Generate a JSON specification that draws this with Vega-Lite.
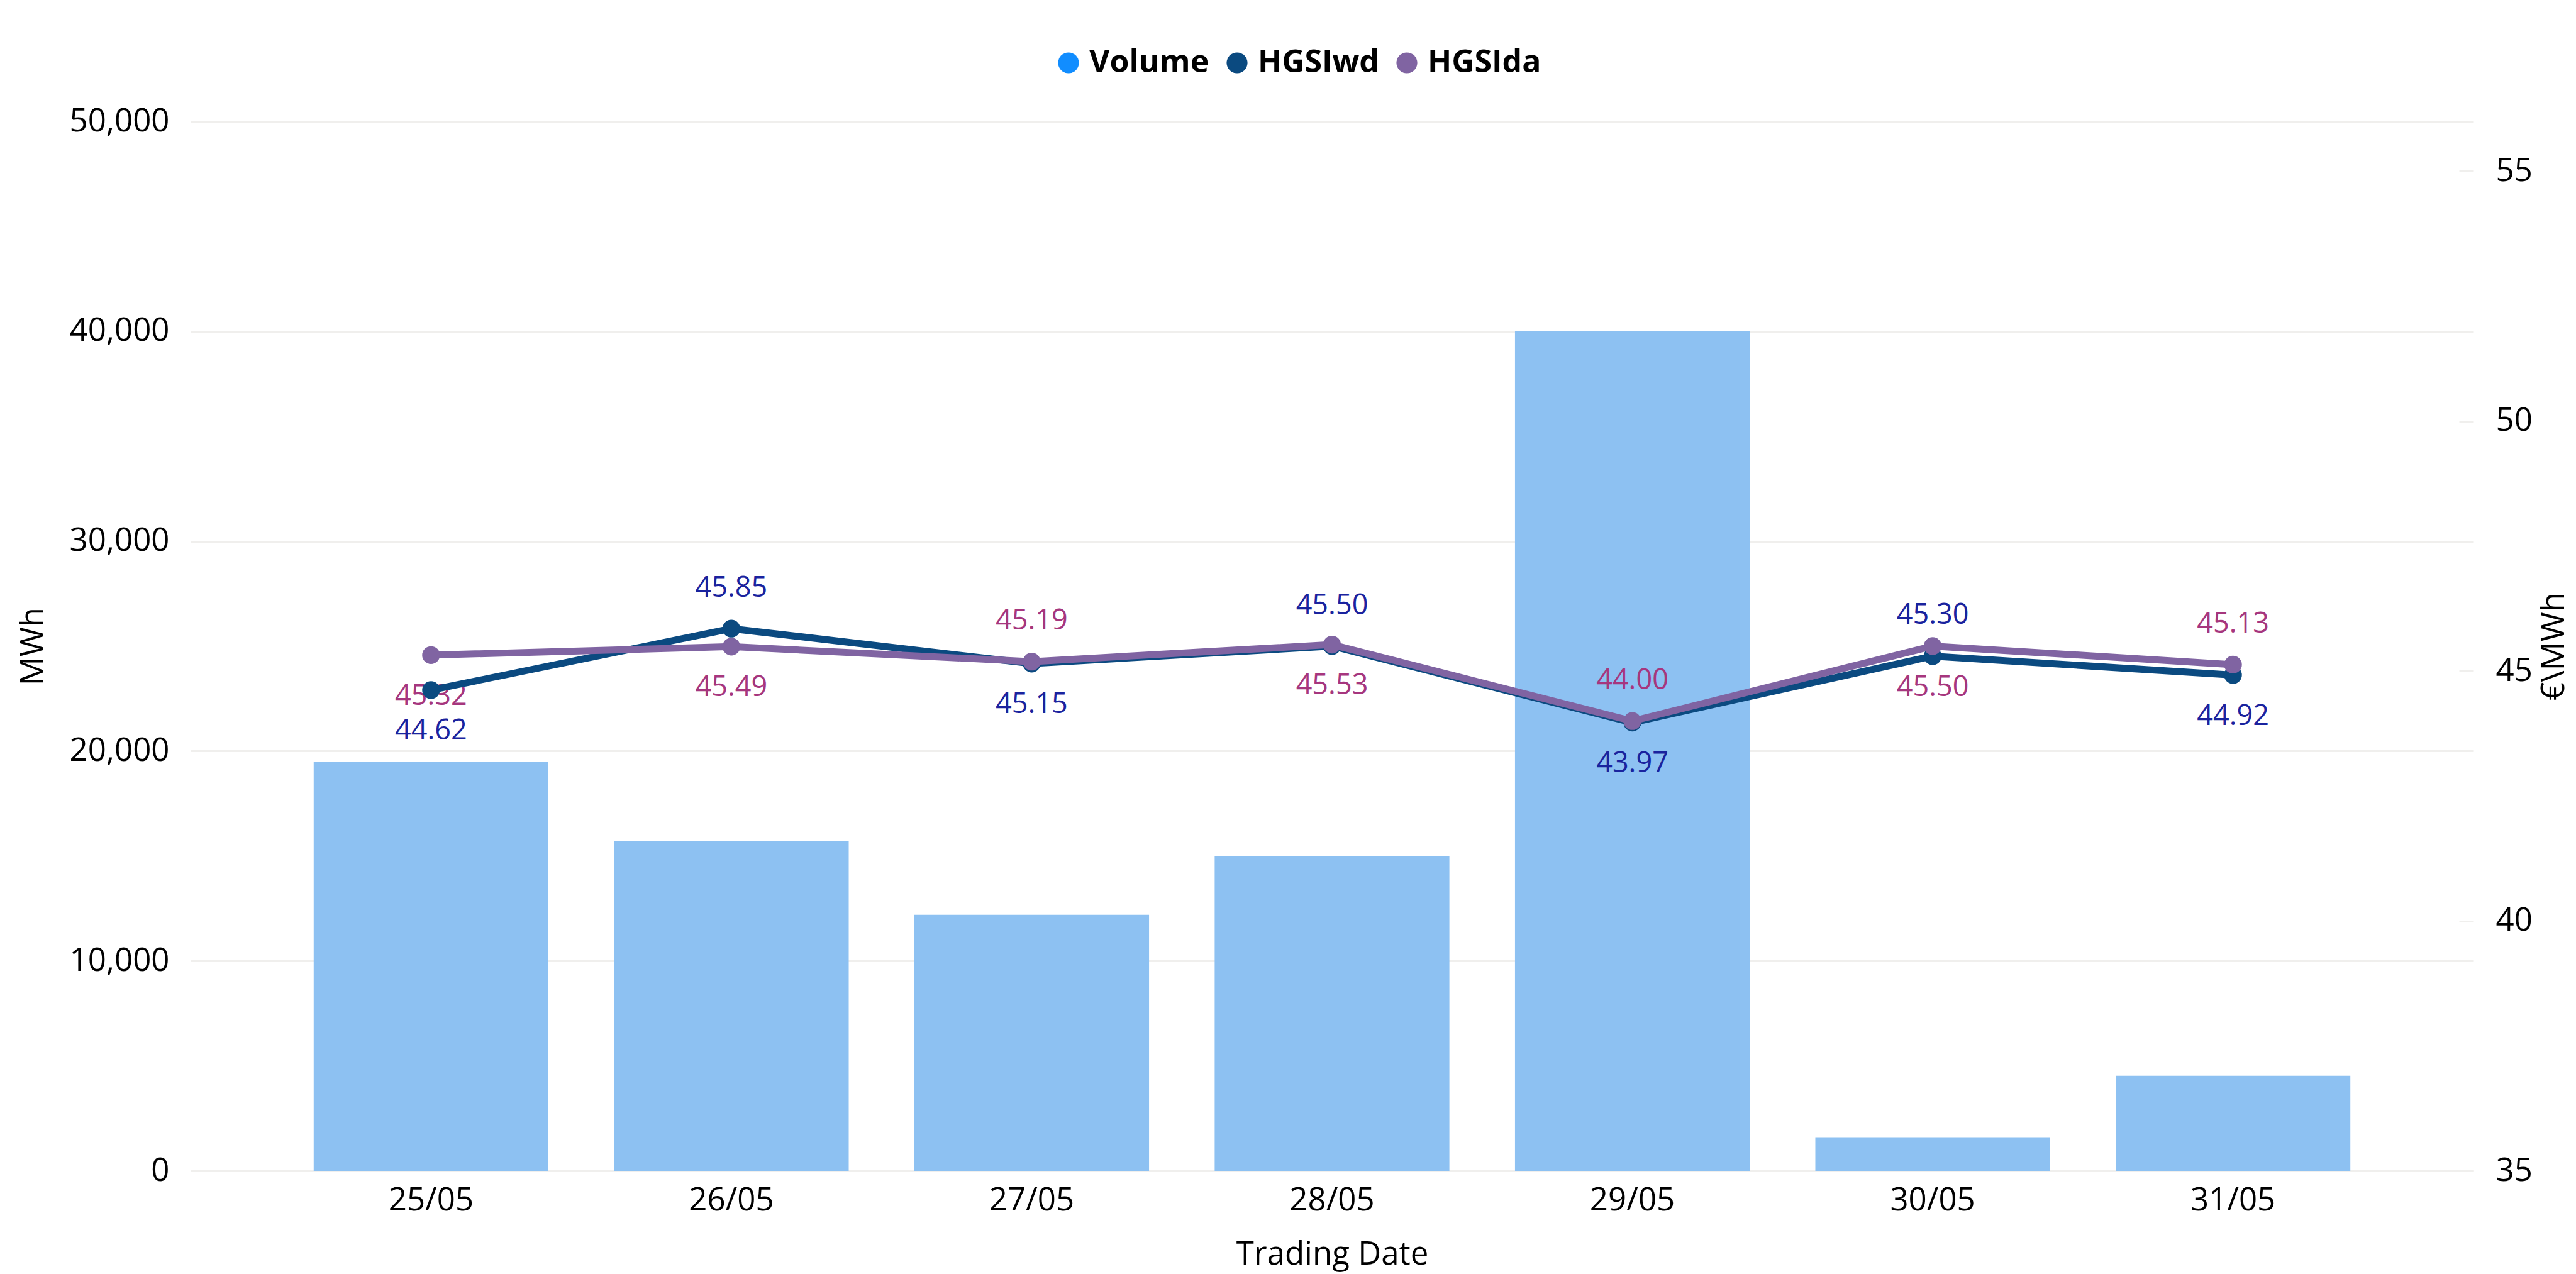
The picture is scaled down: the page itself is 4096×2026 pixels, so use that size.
{
  "$schema": "https://vega.github.io/schema/vega-lite/v6.json",
  "width": 3630,
  "height": 1669,
  "autosize": {"type": "none"},
  "padding": {"left": 303, "top": 193, "right": 163, "bottom": 164},
  "background": "white",
  "config": {
    "view": {"stroke": null},
    "font": "Open Sans",
    "axis": {"labelColor": "#000000", "titleColor": "#000000", "titleFontWeight": "normal", "labelFontSize": 51, "titleFontSize": 51}
  },
  "data": {
    "values": [
      {"date": "25/05", "volume": 19500, "HGSIwd": 44.62, "HGSIda": 45.32},
      {"date": "26/05", "volume": 15700, "HGSIwd": 45.85, "HGSIda": 45.49},
      {"date": "27/05", "volume": 12200, "HGSIwd": 45.15, "HGSIda": 45.19},
      {"date": "28/05", "volume": 15000, "HGSIwd": 45.50, "HGSIda": 45.53},
      {"date": "29/05", "volume": 40000, "HGSIwd": 43.97, "HGSIda": 44.00},
      {"date": "30/05", "volume": 1600, "HGSIwd": 45.30, "HGSIda": 45.50},
      {"date": "31/05", "volume": 4530, "HGSIwd": 44.92, "HGSIda": 45.13}
    ]
  },
  "encoding": {
    "x": {
      "field": "date",
      "type": "ordinal",
      "sort": null,
      "scale": {"paddingInner": 0.2185, "paddingOuter": 0.41},
      "axis": {"title": "Trading Date", "labelAngle": 0, "domain": false, "ticks": false, "labelPadding": 22, "titlePadding": 36}
    }
  },
  "layer": [
    {
      "mark": {"type": "bar", "color": "#8DC1F2"},
      "encoding": {
        "y": {
          "field": "volume",
          "type": "quantitative",
          "scale": {"domain": [0, 50000], "nice": false},
          "axis": {
            "orient": "left",
            "title": "MWh",
            "values": [0, 10000, 20000, 30000, 40000, 50000],
            "format": ",.0f",
            "grid": true,
            "gridColor": "#F0EFED",
            "gridWidth": 3,
            "domain": false,
            "ticks": false,
            "labelPadding": 34,
            "titlePadding": 30
          }
        }
      }
    },
    {
      "layer": [
        {
          "transform": [{"filter": {"field": "date", "oneOf": ["26/05", "28/05", "30/05"]}}],
          "mark": {"type": "text", "dy": -65, "fontSize": 45, "color": "#1A239E", "baseline": "middle"},
          "encoding": {
            "y": {
              "field": "HGSIwd",
              "type": "quantitative",
              "scale": {"domain": [35, 56], "nice": false, "zero": false},
              "axis": {
                "orient": "right", "title": "€\\MWh", "values": [35, 40, 45, 50, 55], "grid": false, "domain": false,
                "ticks": true, "tickSize": -23, "tickColor": "#F0EFED", "tickWidth": 3, "labelPadding": 58,
                "titleAngle": 270, "titleBaseline": "top", "titlePadding": 10
              }
            },
            "text": {"field": "HGSIwd", "type": "quantitative", "format": ".2f"}
          }
        },
        {
          "transform": [{"filter": {"field": "date", "oneOf": ["25/05", "27/05", "29/05", "31/05"]}}],
          "mark": {"type": "text", "dy": 65, "fontSize": 45, "color": "#1A239E", "baseline": "middle"},
          "encoding": {
            "y": {
              "field": "HGSIwd",
              "type": "quantitative",
              "scale": {"domain": [35, 56], "nice": false, "zero": false},
              "axis": {
                "orient": "right", "title": "€\\MWh", "values": [35, 40, 45, 50, 55], "grid": false, "domain": false,
                "ticks": true, "tickSize": -23, "tickColor": "#F0EFED", "tickWidth": 3, "labelPadding": 58,
                "titleAngle": 270, "titleBaseline": "top", "titlePadding": 10
              }
            },
            "text": {"field": "HGSIwd", "type": "quantitative", "format": ".2f"}
          }
        },
        {
          "transform": [{"filter": {"field": "date", "oneOf": ["27/05", "29/05", "31/05"]}}],
          "mark": {"type": "text", "dy": -65, "fontSize": 45, "color": "#A6367E", "baseline": "middle"},
          "encoding": {
            "y": {
              "field": "HGSIda",
              "type": "quantitative",
              "scale": {"domain": [35, 56], "nice": false, "zero": false},
              "axis": {
                "orient": "right", "title": "€\\MWh", "values": [35, 40, 45, 50, 55], "grid": false, "domain": false,
                "ticks": true, "tickSize": -23, "tickColor": "#F0EFED", "tickWidth": 3, "labelPadding": 58,
                "titleAngle": 270, "titleBaseline": "top", "titlePadding": 10
              }
            },
            "text": {"field": "HGSIda", "type": "quantitative", "format": ".2f"}
          }
        },
        {
          "transform": [{"filter": {"field": "date", "oneOf": ["25/05", "26/05", "28/05", "30/05"]}}],
          "mark": {"type": "text", "dy": 65, "fontSize": 45, "color": "#A6367E", "baseline": "middle"},
          "encoding": {
            "y": {
              "field": "HGSIda",
              "type": "quantitative",
              "scale": {"domain": [35, 56], "nice": false, "zero": false},
              "axis": {
                "orient": "right", "title": "€\\MWh", "values": [35, 40, 45, 50, 55], "grid": false, "domain": false,
                "ticks": true, "tickSize": -23, "tickColor": "#F0EFED", "tickWidth": 3, "labelPadding": 58,
                "titleAngle": 270, "titleBaseline": "top", "titlePadding": 10
              }
            },
            "text": {"field": "HGSIda", "type": "quantitative", "format": ".2f"}
          }
        },
        {
          "mark": {"type": "line", "strokeWidth": 11, "strokeJoin": "round", "point": {"filled": true, "size": 800}},
          "encoding": {
            "y": {
              "field": "HGSIwd",
              "type": "quantitative",
              "scale": {"domain": [35, 56], "nice": false, "zero": false},
              "axis": {
                "orient": "right", "title": "€\\MWh", "values": [35, 40, 45, 50, 55], "grid": false, "domain": false,
                "ticks": true, "tickSize": -23, "tickColor": "#F0EFED", "tickWidth": 3, "labelPadding": 58,
                "titleAngle": 270, "titleBaseline": "top", "titlePadding": 10
              }
            },
            "color": {
              "datum": "HGSIwd",
              "type": "nominal",
              "scale": {"domain": ["Volume", "HGSIwd", "HGSIda"], "range": ["#118DFF", "#0B4A80", "#8064A2"]},
              "legend": {
                "orient": "none",
                "legendX": 1371,
                "legendY": -118,
                "direction": "horizontal",
                "title": null,
                "symbolType": "circle",
                "symbolSize": 1100,
                "labelFontSize": 50,
                "labelFontWeight": "bold",
                "labelColor": "#000000",
                "labelLimit": 600,
                "labelOffset": 8,
                "columnPadding": 19,
                "padding": 0,
                "encode": {
                  "symbols": {
                    "update": {
                      "fill": {"scale": "color", "field": "value"},
                      "stroke": {"value": "transparent"},
                      "strokeWidth": {"value": 0},
                      "opacity": {"value": 1},
                      "fillOpacity": {"value": 1}
                    }
                  }
                }
              }
            }
          }
        },
        {
          "mark": {"type": "line", "strokeWidth": 11, "strokeJoin": "round", "point": {"filled": true, "size": 800}},
          "encoding": {
            "y": {
              "field": "HGSIda",
              "type": "quantitative",
              "scale": {"domain": [35, 56], "nice": false, "zero": false},
              "axis": {
                "orient": "right", "title": "€\\MWh", "values": [35, 40, 45, 50, 55], "grid": false, "domain": false,
                "ticks": true, "tickSize": -23, "tickColor": "#F0EFED", "tickWidth": 3, "labelPadding": 58,
                "titleAngle": 270, "titleBaseline": "top", "titlePadding": 10
              }
            },
            "color": {"datum": "HGSIda", "type": "nominal"}
          }
        }
      ]
    }
  ],
  "resolve": {"scale": {"y": "independent"}}
}
